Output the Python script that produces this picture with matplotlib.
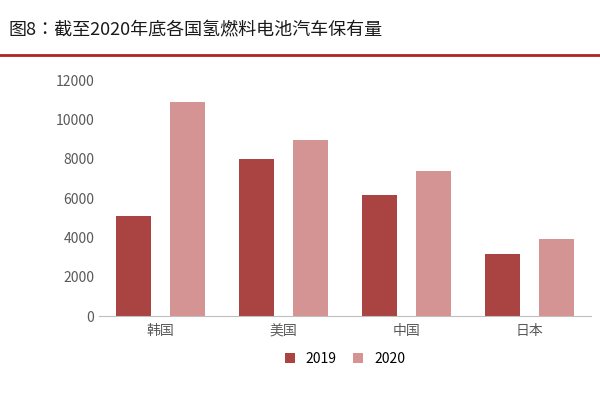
import matplotlib
matplotlib.use("Agg")
import matplotlib.pyplot as plt
import numpy as np

plt.rcParams["font.family"] = "sans-serif"
plt.rcParams["font.sans-serif"] = ["Noto Sans CJK JP", "Noto Sans CJK SC",
                                   "Noto Sans CJK TC", "DejaVu Sans"]

countries = ["韩国", "美国", "中国", "日本"]
values_2019 = [5100, 8000, 6150, 3150]
values_2020 = [10900, 8950, 7350, 3900]
y_ticks = [0, 2000, 4000, 6000, 8000, 10000, 12000]

fig = plt.figure(figsize=(6, 4), dpi=100)
fig.text(0.015, 0.925, "图8：截至2020年底各国氢燃料电池汽车保有量",
         fontsize=13, color="#1a1a1a", va="center")
fig.add_artist(plt.Line2D([0, 1], [0.862, 0.862], color="#b22222", lw=2))

ax = fig.add_axes([0.165, 0.21, 0.82, 0.59])
x = np.arange(len(countries))
w = 0.28
ax.bar(x - 0.22, values_2019, w, color="#a94442", label="2019")
ax.bar(x + 0.22, values_2020, w, color="#d49494", label="2020")

ax.set_ylim(0, 12000)
ax.set_yticks(y_ticks)
ax.set_xticks(x)
ax.set_xticklabels(countries, color="#595959", fontsize=10)
ax.tick_params(axis="y", labelsize=10, colors="#595959", length=0)
ax.tick_params(axis="x", length=0, pad=6)
ax.set_xlim(-0.5, 3.5)
for s in ["top", "right", "left"]:
    ax.spines[s].set_visible(False)
ax.spines["bottom"].set_color("#bfbfbf")

ax.legend(loc="upper center", bbox_to_anchor=(0.5, -0.1), ncol=2,
          frameon=False, fontsize=10, handlelength=0.7, handleheight=0.7,
          columnspacing=1.2)

fig.savefig("out.png", dpi=100)
